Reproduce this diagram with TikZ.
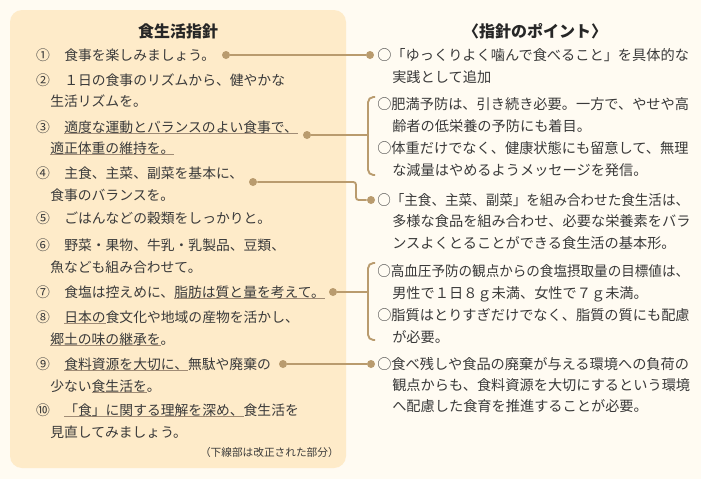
\documentclass[tikz,border=0pt]{standalone}
\usepackage{fontspec}
\setmainfont{Noto Sans CJK JP}
\definecolor{bg}{HTML}{FFFBF2}
\definecolor{panel}{HTML}{FEEBC9}
\definecolor{conn}{HTML}{B99B6E}
\definecolor{txt}{HTML}{3A3A3A}
\definecolor{ulc}{HTML}{A08C76}
\newcommand\ulx[1]{\setbox0\hbox{#1}\rlap{\textcolor{ulc}{\rule[-1.3pt]{\wd0}{0.6pt}}}\box0}
\begin{document}
\begin{tikzpicture}[x=0.75pt,y=-0.75pt,
  lt/.style={anchor=west,inner sep=0pt,font=\fontsize{10.35pt}{12pt}\selectfont,text=txt,text height=9.1pt,text depth=1.25pt},
  num/.style={anchor=center,inner sep=0pt,font=\fontsize{10.35pt}{12pt}\selectfont,text=txt,text height=9.1pt,text depth=1.25pt},
  rt/.style={anchor=west,inner sep=0pt,font=\fontsize{10.65pt}{12pt}\selectfont,text=txt,text height=9.37pt,text depth=1.28pt},
  ttl/.style={anchor=center,inner sep=0pt,font=\fontsize{12pt}{14pt}\selectfont\bfseries,text=black!85},
  dot/.style={circle,fill=conn,inner sep=0pt,minimum size=6pt},
  cline/.style={draw=conn,line width=1.4pt}]
\useasboundingbox (0,0) rectangle (701,479);
\fill[bg] (0,0) rectangle (701,479);
\fill[panel,rounded corners=9pt] (10,10) rectangle (346,468);
% titles
\node[ttl] (t1) at (178,31) {食生活指針};
\node[ttl] (t2) at (535,31) {〈指針のポイント〉};
% left items
\node[num] (n1) at (43,55) {①};
\node[lt] (l1) at (64,55) {食事を楽しみましょう。};
\node[num] (n2) at (43,80) {②};
\node[lt] (l2a) at (64,80) {１日の食事のリズムから、健やかな};
\node[lt] (l2b) at (50,101) {生活リズムを。};
\node[num] (n3) at (43,127) {③};
\node[lt] (l3a) at (64,127) {\ulx{適度な運動とバランスのよい食事で、}};
\node[lt] (l3b) at (50,148) {\ulx{適正体重の維持を。}};
\node[num] (n4) at (43,173) {④};
\node[lt] (l4a) at (64,173) {主食、主菜、副菜を基本に、};
\node[lt] (l4b) at (50,195) {食事のバランスを。};
\node[num] (n5) at (43,218) {⑤};
\node[lt] (l5) at (64,218) {ごはんなどの穀類をしっかりと。};
\node[num] (n6) at (43,245) {⑥};
\node[lt] (l6a) at (64,245) {野菜・果物、牛乳・乳製品、豆類、};
\node[lt] (l6b) at (50,267) {魚なども組み合わせて。};
\node[num] (n7) at (43,292) {⑦};
\node[lt] (l7) at (64,292) {食塩は控えめに、\ulx{脂肪は質と量を考えて。}};
\node[num] (n8) at (43,317) {⑧};
\node[lt] (l8a) at (64,317) {\ulx{日本の}食文化や地域の産物を活かし、};
\node[lt] (l8b) at (50,339) {\ulx{郷土の味の継承を}。};
\node[num] (n9) at (43,364) {⑨};
\node[lt] (l9a) at (64,364) {\ulx{食料資源を大切に、}無駄や廃棄の};
\node[lt] (l9b) at (50,386) {少ない\ulx{食生活を}。};
\node[num] (n10) at (43,410) {⑩};
\node[lt] (l10a) at (64,410) {\ulx{「食」に関する理解を深め、}食生活を};
\node[lt] (l10b) at (50,432) {見直してみましょう。};
\node[anchor=east,inner sep=0pt,font=\fontsize{8pt}{10pt}\selectfont,text=txt] (note) at (339,452) {（下線部は改正された部分）};
% right items
\node[rt] (r1a) at (377,55) {○「ゆっくりよく噛んで食べること」を具体的な};
\node[rt] (r1b) at (392,77) {実践として追加};
\node[rt] (r2a) at (377,104) {○肥満予防は、引き続き必要。一方で、やせや高};
\node[rt] (r2b) at (392,126) {齢者の低栄養の予防にも着目。};
\node[rt] (r3a) at (377,148) {○体重だけでなく、健康状態にも留意して、無理};
\node[rt] (r3b) at (392,170) {な減量はやめるようメッセージを発信。};
\node[rt] (r4a) at (377,200) {\scalebox{0.955}[1]{○「主食、主菜、副菜」を組み合わせた食生活は、}};
\node[rt] (r4b) at (392,221) {多様な食品を組み合わせ、必要な栄養素をバラ};
\node[rt] (r4c) at (392,243) {ンスよくとることができる食生活の基本形。};
\node[rt] (r5a) at (377,271) {\scalebox{0.955}[1]{○高血圧予防の観点からの食塩摂取量の目標値は、}};
\node[rt] (r5b) at (392,293) {男性で１日８ｇ未満、女性で７ｇ未満。};
\node[rt] (r6a) at (377,315) {○脂質はとりすぎだけでなく、脂質の質にも配慮};
\node[rt] (r6b) at (392,337) {が必要。};
\node[rt] (r7a) at (377,364) {○食べ残しや食品の廃棄が与える環境への負荷の};
\node[rt] (r7b) at (392,385) {観点からも、食料資源を大切にするという環境};
\node[rt] (r7c) at (392,406) {へ配慮した食育を推進することが必要。};
% dots
\node[dot] (d1) at (226,55) {};
\node[dot] (d3) at (307,135) {};
\node[dot] (d4) at (253,182) {};
\node[dot] (d7) at (333,292) {};
\node[dot] (d9) at (283,364) {};
\node[dot] (e1) at (370,55) {};
\node[dot] (e4) at (371,200) {};
\node[dot] (e9) at (371,364) {};
% connector points
\coordinate (b3) at (368,135);
\coordinate (b3t) at (375,97);
\coordinate (b3tt) at (368,97);
\coordinate (b3bb) at (368,175);
\coordinate (b3b) at (375,175);
\coordinate (b7) at (368,292);
\coordinate (b7t) at (375,263);
\coordinate (b7tt) at (368,263);
\coordinate (b7bb) at (368,340);
\coordinate (b7b) at (375,340);
\coordinate (k4a) at (356,182);
\coordinate (k4b) at (356,200);
% connectors
\draw[cline] (d1) -- (e1);
\draw[cline] (d3) -- (b3);
\draw[cline,rounded corners=4pt] (b3t) -- (b3tt) -- (b3bb) -- (b3b);
\draw[cline,rounded corners=2pt] (d4) -- (k4a) -- (k4b) -- (e4);
\draw[cline] (d7) -- (b7);
\draw[cline,rounded corners=4pt] (b7t) -- (b7tt) -- (b7bb) -- (b7b);
\draw[cline] (d9) -- (e9);
\end{tikzpicture}
\end{document}
